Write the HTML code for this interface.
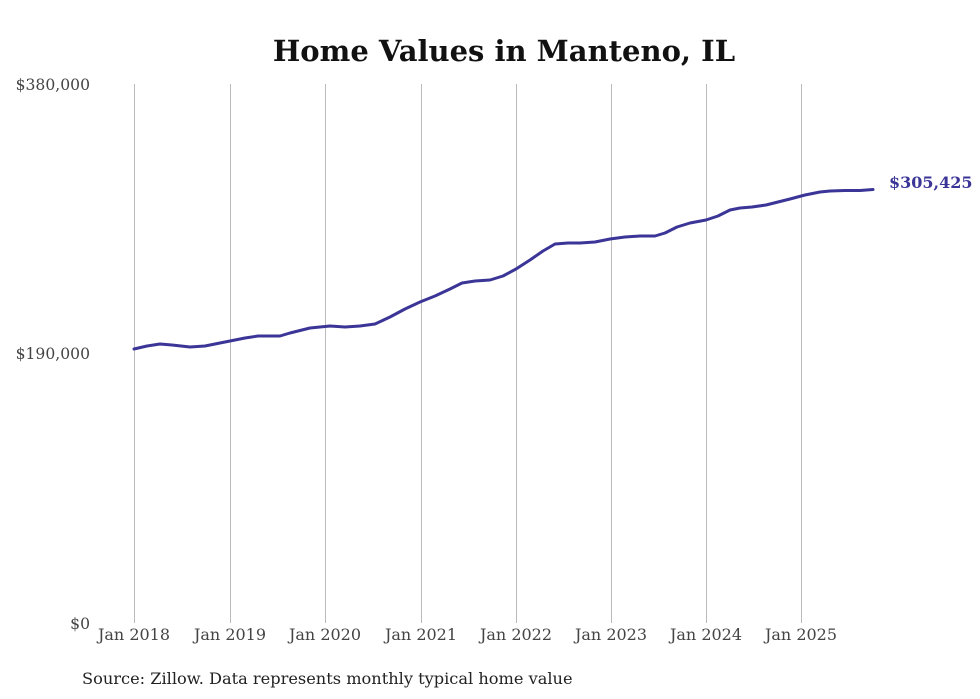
<!DOCTYPE html>
<html><head><meta charset="utf-8"><style>
body{margin:0;background:#fff;}
svg{display:block;}
text{font-family:"DejaVu Serif","Liberation Serif",serif;}
</style></head><body>
<svg width="980" height="699" viewBox="0 0 980 699" xmlns="http://www.w3.org/2000/svg">
<rect width="980" height="699" fill="#fff"/>
<text x="504" y="61" text-anchor="middle" font-size="29" font-weight="bold" fill="#111">Home Values in Manteno, IL</text>
<g stroke="#bbb" stroke-width="1">
<line x1="134.5" y1="84" x2="134.5" y2="623"/>
<line x1="230.5" y1="84" x2="230.5" y2="623"/>
<line x1="325.5" y1="84" x2="325.5" y2="623"/>
<line x1="421.5" y1="84" x2="421.5" y2="623"/>
<line x1="516.5" y1="84" x2="516.5" y2="623"/>
<line x1="611.5" y1="84" x2="611.5" y2="623"/>
<line x1="706.5" y1="84" x2="706.5" y2="623"/>
<line x1="801.5" y1="84" x2="801.5" y2="623"/>
</g>
<g font-size="15.6" fill="#444" text-anchor="end">
<text x="90" y="90">$380,000</text>
<text x="90" y="359">$190,000</text>
<text x="90" y="629">$0</text>
</g>
<g font-size="16" fill="#444" text-anchor="middle">
<text x="134" y="640">Jan 2018</text>
<text x="230" y="640">Jan 2019</text>
<text x="325" y="640">Jan 2020</text>
<text x="421" y="640">Jan 2021</text>
<text x="516" y="640">Jan 2022</text>
<text x="611" y="640">Jan 2023</text>
<text x="706" y="640">Jan 2024</text>
<text x="801" y="640">Jan 2025</text>
</g>
<polyline fill="none" stroke="#3a3596" stroke-width="3" stroke-linejoin="round" stroke-linecap="round"
points="134,349 147,346 160,344 172,345 190,347 205,346 230,341 245,338 258,336 280,336 290,333 310,328 330,326 345,327 360,326 375,324 390,317 405,309 420,302 435,296 450,289 462,283 475,281 490,280 503,276 516,269 530,260 543,251 555,244 568,243 580,243 595,242 610,239 625,237 640,236 655,236 665,233 677,227 690,223 706,220 718,216 730,210 740,208 752,207 766,205 778,202 790,199 805,195 820,192 830,191 845,190.5 860,190.5 873,189.5"/>
<text x="889" y="188" font-size="16" font-weight="bold" fill="#3a3596">$305,425</text>
<text x="82" y="684" font-size="16.2" fill="#222">Source: Zillow. Data represents monthly typical home value</text>
</svg>
</body></html>
